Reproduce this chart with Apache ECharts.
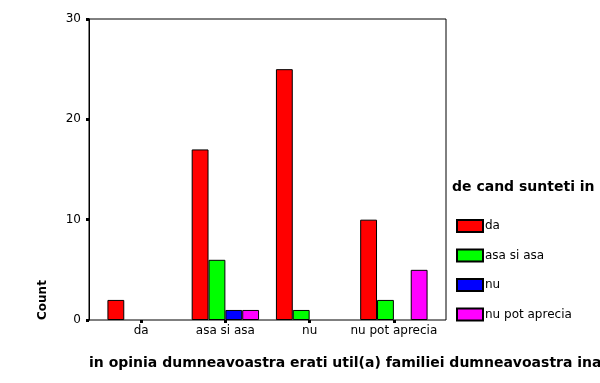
<!DOCTYPE html>
<html>
<head>
<meta charset="utf-8">
<script src="https://cdn.jsdelivr.net/npm/echarts@6/dist/echarts.min.js"></script>
<style>
html,body{margin:0;padding:0;background:#fff;}
#c{width:600px;height:383px;}
</style>
</head>
<body>
<div id="c"></div>
<script>
var categories = ['da', 'asa si asa', 'nu', 'nu pot aprecia'];
var seriesNames = ['da', 'asa si asa', 'nu', 'nu pot aprecia'];
var valuesDa = [2, 17, 25, 10];
var valuesAsaSiAsa = [0, 6, 1, 2];
var valuesNu = [0, 1, 0, 0];
var valuesNuPotAprecia = [0, 1, 0, 5];
var yTicks = [0, 10, 20, 30];
var colors = ['#ff0000', '#00ff00', '#0000ff', '#ff00ff'];
var xTitle = 'in opinia dumneavoastra erati util(a) familiei dumneavoastra ina';
var legendTitle = 'de cand sunteti in';
var yTitle = 'Count';

var font = 'DejaVu Sans';
var allValues = [valuesDa, valuesAsaSiAsa, valuesNu, valuesNuPotAprecia];

var chart = echarts.init(document.getElementById('c'), null, {renderer: 'canvas'});
var option = {
  animation: false,
  backgroundColor: '#ffffff',
  grid: [
    {left: 99, right: 164, top: 19, bottom: 63, show: false},
    {left: 89, right: 154, top: 19, bottom: 63, show: true, borderColor: '#000', borderWidth: 1, backgroundColor: 'transparent'}
  ],
  xAxis: [
    {type: 'category', gridIndex: 0, data: categories,
     axisLine: {show: false},
     axisTick: {show: true, alignWithLabel: true, length: 3, lineStyle: {color: '#000', width: 3}},
     axisLabel: {color: '#000', fontFamily: font, fontSize: 12, margin: 5, interval: 0}},
    {type: 'value', gridIndex: 1, show: false}
  ],
  yAxis: [
    {type: 'value', gridIndex: 0, min: 0, max: 30, interval: 10, show: false},
    {type: 'value', gridIndex: 1, min: yTicks[0], max: yTicks[yTicks.length - 1], interval: 10,
     axisLine: {show: true, lineStyle: {color: '#000', width: 1}},
     axisTick: {show: true, length: 3, lineStyle: {color: '#000', width: 3}},
     splitLine: {show: false},
     axisLabel: {color: '#000', fontFamily: font, fontSize: 12, margin: 8}}
  ],
  legend: {
    orient: 'vertical', left: 456, top: 219, padding: 0,
    icon: 'rect',
    itemWidth: 26, itemHeight: 12, itemGap: 15.5,
    textStyle: {color: '#000', fontFamily: font, fontSize: 12, padding: [0, 0, 0, -3]},
    data: seriesNames
  },
  graphic: [
    {type: 'text', left: 89, top: 356, style: {text: xTitle, font: 'bold 14px "' + font + '"', fill: '#000'}},
    {type: 'text', left: 452, top: 180, style: {text: legendTitle, font: 'bold 14px "' + font + '"', fill: '#000'}},
    {type: 'text', x: 37, y: 320, rotation: Math.PI / 2, style: {text: yTitle, font: 'bold 12px "' + font + '"', fill: '#000'}}
  ],
  series: seriesNames.map(function (n, i) {
    return {
      name: n, type: 'bar', xAxisIndex: 0, yAxisIndex: 0,
      data: allValues[i].map(function (v) { return v === 0 ? '-' : v; }),
      barGap: '0%', barCategoryGap: '20%',
      itemStyle: {color: colors[i], borderColor: '#000', borderWidth: 1}
    };
  })
};
chart.setOption(option);
</script>
</body>
</html>
